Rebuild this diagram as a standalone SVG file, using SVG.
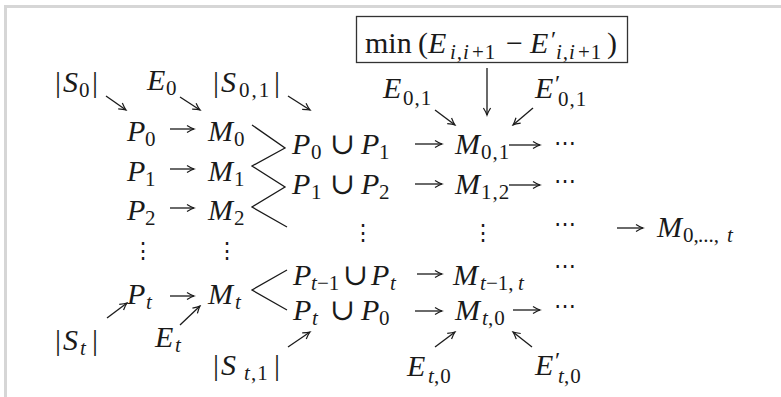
<svg xmlns="http://www.w3.org/2000/svg" width="781" height="397" viewBox="0 0 781 397">
<style>
.t{font-family:'Liberation Serif','Times New Roman',Times,'DejaVu Serif',serif;font-size:30px;fill:#1a1a1a}
.i{font-style:italic}
.s{font-size:21px}
.d{font-family:'DejaVu Serif',serif;font-size:22px;fill:#1a1a1a}
.c path,.c polyline{stroke:#1a1a1a;stroke-width:1.3;fill:none}
.a{marker-end:url(#ah)}
</style>
<defs>
<marker id="ah" viewBox="-8 -5 10 10" markerWidth="10" markerHeight="10" refX="0" refY="0" orient="auto" markerUnits="userSpaceOnUse">
<path d="M-7,-3.6 Q-2.5,-0.8 0,0 Q-2.5,0.8 -7,3.6" fill="none" stroke="#1a1a1a" stroke-width="1.2"/>
</marker>
</defs>
<rect x="0" y="0" width="781" height="397" fill="#fff"/>
<rect x="4" y="5" width="777" height="3" fill="#d6d6d6"/>
<rect x="4" y="5" width="3" height="392" fill="#d6d6d6"/>

<g id="box">
<rect x="356.5" y="16.5" width="271" height="46" fill="none" stroke="#333" stroke-width="1.3"/>
<text class="t"><tspan x="365" y="53">min</tspan><tspan x="418" y="53">(</tspan><tspan class="i" x="428" y="53">E</tspan><tspan class="s i" x="450" y="59" letter-spacing="1">i,i</tspan><tspan class="s" x="472" y="59" letter-spacing="1">+1</tspan><tspan x="506" y="53">−</tspan><tspan class="i" x="530" y="53">E</tspan><tspan x="551" y="47" font-size="24">′</tspan><tspan class="s i" x="556" y="59" letter-spacing="1">i,i</tspan><tspan class="s" x="578" y="59" letter-spacing="1">+1</tspan><tspan x="607" y="53">)</tspan></text>
</g>

<g id="S0"><text class="t"><tspan x="55" y="92">|</tspan><tspan class="i" x="63" y="92">S</tspan><tspan class="s" x="79" y="97">0</tspan><tspan x="92" y="92">|</tspan></text></g>
<g id="E0"><text class="t"><tspan class="i" x="147" y="90">E</tspan><tspan class="s" x="166" y="95">0</tspan></text></g>
<g id="S01"><text class="t"><tspan x="213" y="92">|</tspan><tspan class="i" x="221" y="92">S</tspan><tspan class="s" x="239" y="97" letter-spacing="2">0,1</tspan><tspan x="274" y="92">|</tspan></text></g>

<g id="P0"><text class="t"><tspan class="i" x="127" y="141">P</tspan><tspan class="s" x="145" y="146">0</tspan></text></g>
<g id="M0"><text class="t"><tspan class="i" x="208" y="141">M</tspan><tspan class="s" x="234" y="146">0</tspan></text></g>
<g id="P1"><text class="t"><tspan class="i" x="127" y="181">P</tspan><tspan class="s" x="145" y="186">1</tspan></text></g>
<g id="M1"><text class="t"><tspan class="i" x="208" y="181">M</tspan><tspan class="s" x="234" y="186">1</tspan></text></g>
<g id="P2"><text class="t"><tspan class="i" x="127" y="220">P</tspan><tspan class="s" x="145" y="225">2</tspan></text></g>
<g id="M2"><text class="t"><tspan class="i" x="208" y="220">M</tspan><tspan class="s" x="234" y="225">2</tspan></text></g>
<g id="vdotsL"><text class="d" x="143" y="258" text-anchor="middle">⋮</text><text class="d" x="227" y="258" text-anchor="middle">⋮</text></g>
<g id="Pt"><text class="t"><tspan class="i" x="127" y="304">P</tspan><tspan class="s i" x="146" y="309">t</tspan></text></g>
<g id="Mt"><text class="t"><tspan class="i" x="208" y="304">M</tspan><tspan class="s i" x="235" y="309">t</tspan></text></g>
<g id="St"><text class="t"><tspan x="55" y="350">|</tspan><tspan class="i" x="63" y="350">S</tspan><tspan class="s i" x="80" y="355">t</tspan><tspan x="92" y="350">|</tspan></text></g>
<g id="Et"><text class="t"><tspan class="i" x="155" y="347">E</tspan><tspan class="s i" x="175" y="352">t</tspan></text></g>
<g id="St1"><text class="t"><tspan x="213" y="375">|</tspan><tspan class="i" x="221" y="375">S</tspan><tspan class="s i" x="244" y="380">t</tspan><tspan class="s" x="251" y="380" letter-spacing="1">,1</tspan><tspan x="274" y="375">|</tspan></text></g>

<g id="P0P1"><text class="t"><tspan class="i" x="292" y="154">P</tspan><tspan class="s" x="311" y="159">0</tspan><tspan x="330" y="154">∪</tspan><tspan class="i" x="361" y="154">P</tspan><tspan class="s" x="379" y="159">1</tspan></text></g>
<g id="M01"><text class="t"><tspan class="i" x="455" y="154">M</tspan><tspan class="s" x="481" y="159" letter-spacing="1">0,1</tspan></text></g>
<g id="P1P2"><text class="t"><tspan class="i" x="292" y="194">P</tspan><tspan class="s" x="311" y="199">1</tspan><tspan x="330" y="194">∪</tspan><tspan class="i" x="361" y="194">P</tspan><tspan class="s" x="379" y="199">2</tspan></text></g>
<g id="M12"><text class="t"><tspan class="i" x="455" y="194">M</tspan><tspan class="s" x="481" y="199" letter-spacing="1">1,2</tspan></text></g>
<g id="vdotsR"><text class="d" x="363" y="240" text-anchor="middle">⋮</text><text class="d" x="483" y="240" text-anchor="middle">⋮</text></g>
<g id="Pt1Pt"><text class="t"><tspan class="i" x="293" y="285">P</tspan><tspan class="s i" x="311" y="290">t</tspan><tspan class="s" x="317" y="290">−1</tspan><tspan x="343" y="285">∪</tspan><tspan class="i" x="371" y="285">P</tspan><tspan class="s i" x="390" y="290">t</tspan></text></g>
<g id="Mt1t"><text class="t"><tspan class="i" x="453" y="285">M</tspan><tspan class="s i" x="480" y="290">t</tspan><tspan class="s" x="486" y="290">−1,</tspan><tspan class="s i" x="518" y="290">t</tspan></text></g>
<g id="PtP0"><text class="t"><tspan class="i" x="293" y="320">P</tspan><tspan class="s i" x="312" y="325">t</tspan><tspan x="330" y="320">∪</tspan><tspan class="i" x="361" y="320">P</tspan><tspan class="s" x="379" y="325">0</tspan></text></g>
<g id="Mt0"><text class="t"><tspan class="i" x="455" y="320">M</tspan><tspan class="s i" x="482" y="325">t</tspan><tspan class="s" x="488" y="325" letter-spacing="1">,0</tspan></text></g>

<g id="dots"><text class="d" x="565" y="150" text-anchor="middle">⋯</text><text class="d" x="565" y="188" text-anchor="middle">⋯</text><text class="d" x="565" y="231" text-anchor="middle">⋯</text><text class="d" x="565" y="273" text-anchor="middle">⋯</text><text class="d" x="565" y="313" text-anchor="middle">⋯</text></g>
<g id="Mall"><text class="t"><tspan class="i" x="657" y="237">M</tspan><tspan class="s" x="683" y="242">0,</tspan><tspan class="s" x="698" y="242">...,</tspan><tspan class="s i" x="727" y="242">t</tspan></text></g>

<g id="E01"><text class="t"><tspan class="i" x="383" y="98">E</tspan><tspan class="s" x="403" y="105" letter-spacing="1">0,1</tspan></text></g>
<g id="E01p"><text class="t"><tspan class="i" x="535" y="98">E</tspan><tspan x="555" y="91" font-size="24">′</tspan><tspan class="s" x="558" y="106" letter-spacing="1">0,1</tspan></text></g>
<g id="Et0"><text class="t"><tspan class="i" x="407" y="376">E</tspan><tspan class="s i" x="428" y="383">t</tspan><tspan class="s" x="434" y="383" letter-spacing="1">,0</tspan></text></g>
<g id="Et0p"><text class="t"><tspan class="i" x="535" y="375">E</tspan><tspan x="555" y="368" font-size="24">′</tspan><tspan class="s i" x="558" y="383">t</tspan><tspan class="s" x="564" y="383" letter-spacing="1">,0</tspan></text></g>

<g id="connectors" class="c">
<path class="a" d="M106,96 L126,110"/>
<path class="a" d="M180,97 L200,110"/>
<path class="a" d="M288,96 L310,110"/>
<path class="a" d="M435,110 L455,125"/>
<path class="a" d="M487,68 L487,115"/>
<path class="a" d="M533,108 L513,125"/>
<path class="a" d="M170,129 L194,129"/>
<path class="a" d="M170,169 L194,169"/>
<path class="a" d="M170,208 L194,208"/>
<path class="a" d="M170,296 L194,296"/>
<path class="a" d="M415,144 L442,144"/>
<path class="a" d="M415,184 L442,184"/>
<path class="a" d="M417,274 L442,274"/>
<path class="a" d="M415,311 L442,311"/>
<path class="a" d="M509,145 L540,145"/>
<path class="a" d="M509,185 L540,185"/>
<path class="a" d="M513,310 L540,310"/>
<path class="a" d="M617,228 L643,228"/>
<path class="a" d="M107,318 L127,303"/>
<path class="a" d="M180,325 L200,306"/>
<path class="a" d="M288,347 L310,332"/>
<path class="a" d="M435,347 L455,332"/>
<path class="a" d="M532,347 L513,332"/>
<polyline points="252,125 285,148 252,166 285,187 252,207 287,227"/>
<polyline points="287,270 252,290 287,310"/>
</g>
</svg>
